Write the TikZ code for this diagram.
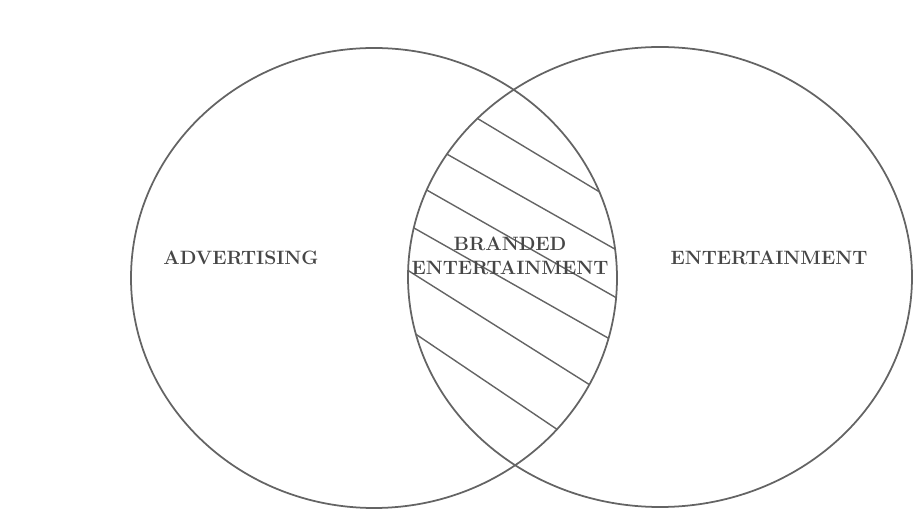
\documentclass[tikz,border=0pt]{standalone}
\definecolor{venngray}{RGB}{100,100,100}
\definecolor{labelgray}{RGB}{70,70,70}
\usetikzlibrary{positioning}
\begin{document}
\begin{tikzpicture}
\useasboundingbox (0,0) rectangle (18.3,10.42);
\tikzset{setlabel/.style={labelgray,font=\bfseries\fontsize{11}{13.7}\selectfont,align=center}}
% hatching, kept inside the overlap of the two sets
\begin{scope}
\clip (7.48,4.86) ellipse (4.86cm and 4.6cm);
\clip (13.2,4.88) ellipse (5.04cm and 4.6cm);
\foreach \xa/\ya/\xb/\yb in {9.6/8.02/11.86/6.66, 9.04/7.28/12.26/5.46, 8.64/6.56/12.3/4.48,
    8.28/5.86/12.16/3.66, 8.4/4.86/11.8/2.72, 8.4/3.68/11.16/1.82}
  \draw[venngray,line width=0.8pt,shorten <=-1cm,shorten >=-1cm] (\xa,\ya) -- (\xb,\yb);
\end{scope}
% the two sets
\draw[venngray,line width=1pt] (7.48,4.86) ellipse (4.86cm and 4.6cm);
\draw[venngray,line width=1pt] (13.2,4.88) ellipse (5.04cm and 4.6cm);
\node[setlabel] (adv) at (4.82,5.26) {ADVERTISING};
\node[setlabel] (ent) at (15.38,5.26) {ENTERTAINMENT};
\node[setlabel] (branded) at (10.2,5.3) {BRANDED\\ENTERTAINMENT};
\end{tikzpicture}
\end{document}
